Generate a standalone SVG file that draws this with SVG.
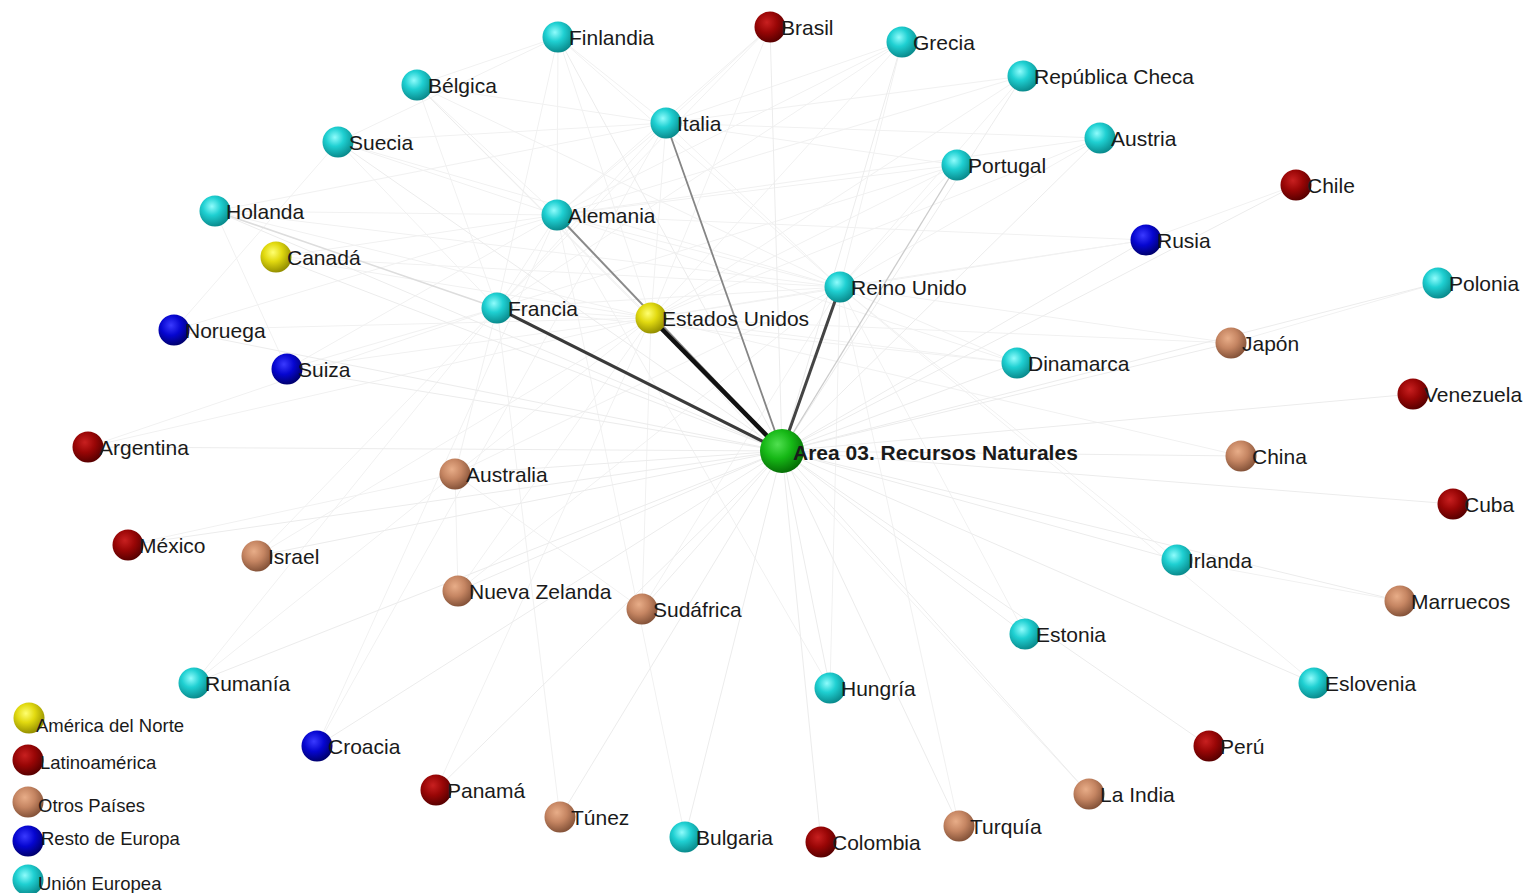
<svg xmlns="http://www.w3.org/2000/svg" width="1523" height="893" viewBox="0 0 1523 893">
<defs>
<radialGradient id="gC" cx="0.4" cy="0.35" r="0.65"><stop offset="0" stop-color="#8ffcfc"/><stop offset="0.45" stop-color="#1fd0d2"/><stop offset="1" stop-color="#0a8c8e"/></radialGradient>
<radialGradient id="gY" cx="0.4" cy="0.35" r="0.65"><stop offset="0" stop-color="#ffff70"/><stop offset="0.45" stop-color="#e2da10"/><stop offset="1" stop-color="#959000"/></radialGradient>
<radialGradient id="gR" cx="0.4" cy="0.35" r="0.65"><stop offset="0" stop-color="#c82020"/><stop offset="0.5" stop-color="#990606"/><stop offset="1" stop-color="#5a0000"/></radialGradient>
<radialGradient id="gT" cx="0.4" cy="0.35" r="0.65"><stop offset="0" stop-color="#e8ad88"/><stop offset="0.5" stop-color="#c58562"/><stop offset="1" stop-color="#86543a"/></radialGradient>
<radialGradient id="gB" cx="0.4" cy="0.35" r="0.65"><stop offset="0" stop-color="#3a3aff"/><stop offset="0.5" stop-color="#0606d0"/><stop offset="1" stop-color="#000070"/></radialGradient>
<radialGradient id="gG" cx="0.4" cy="0.35" r="0.65"><stop offset="0" stop-color="#50e050"/><stop offset="0.5" stop-color="#16b816"/><stop offset="1" stop-color="#067006"/></radialGradient>
</defs>
<style>
text{font-family:"Liberation Sans",Arial,sans-serif;font-size:21px;fill:#1a1a1a}
.lg text{font-size:18.5px}
.c{fill:url(#gC)} .y{fill:url(#gY)} .r{fill:url(#gR)} .t{fill:url(#gT)} .b{fill:url(#gB)} .g{fill:url(#gG)}
.f line{stroke:#f1f1f1;stroke-width:1}
.s line{stroke:#ececec;stroke-width:1}
</style>
<rect width="1523" height="893" fill="#ffffff"/>
<g id="connectors">
<g class="f">
<line x1="558" y1="37" x2="666" y2="123"/><line x1="558" y1="37" x2="557" y2="215"/><line x1="558" y1="37" x2="497" y2="308"/><line x1="558" y1="37" x2="840" y2="287"/><line x1="558" y1="37" x2="651" y2="318"/><line x1="558" y1="37" x2="417" y2="85"/>
<line x1="417" y1="85" x2="557" y2="215"/><line x1="417" y1="85" x2="497" y2="308"/><line x1="417" y1="85" x2="666" y2="123"/><line x1="417" y1="85" x2="840" y2="287"/><line x1="417" y1="85" x2="651" y2="318"/>
<line x1="338" y1="142" x2="557" y2="215"/><line x1="338" y1="142" x2="497" y2="308"/><line x1="338" y1="142" x2="666" y2="123"/><line x1="338" y1="142" x2="840" y2="287"/><line x1="338" y1="142" x2="558" y2="37"/>
<line x1="215" y1="211" x2="557" y2="215"/><line x1="215" y1="211" x2="666" y2="123"/><line x1="215" y1="211" x2="840" y2="287"/><line x1="215" y1="211" x2="651" y2="318"/>
<line x1="666" y1="123" x2="557" y2="215"/><line x1="666" y1="123" x2="497" y2="308"/><line x1="666" y1="123" x2="840" y2="287"/><line x1="666" y1="123" x2="651" y2="318"/><line x1="666" y1="123" x2="957" y2="165"/><line x1="666" y1="123" x2="1023" y2="76"/><line x1="666" y1="123" x2="1100" y2="138"/>
<line x1="557" y1="215" x2="497" y2="308"/><line x1="557" y1="215" x2="840" y2="287"/><line x1="557" y1="215" x2="957" y2="165"/><line x1="557" y1="215" x2="1023" y2="76"/><line x1="557" y1="215" x2="1100" y2="138"/><line x1="557" y1="215" x2="1017" y2="363"/><line x1="557" y1="215" x2="902" y2="42"/>
<line x1="497" y1="308" x2="840" y2="287"/><line x1="497" y1="308" x2="651" y2="318"/><line x1="497" y1="308" x2="957" y2="165"/><line x1="497" y1="308" x2="1017" y2="363"/><line x1="497" y1="308" x2="902" y2="42"/>
<line x1="651" y1="318" x2="840" y2="287"/><line x1="276" y1="257" x2="651" y2="318"/><line x1="276" y1="257" x2="840" y2="287"/><line x1="276" y1="257" x2="557" y2="215"/>
<line x1="770" y1="27" x2="666" y2="123"/><line x1="770" y1="27" x2="651" y2="318"/><line x1="770" y1="27" x2="557" y2="215"/><line x1="770" y1="27" x2="497" y2="308"/>
<line x1="902" y1="42" x2="666" y2="123"/><line x1="902" y1="42" x2="840" y2="287"/><line x1="902" y1="42" x2="651" y2="318"/>
<line x1="1023" y1="76" x2="840" y2="287"/><line x1="1023" y1="76" x2="651" y2="318"/><line x1="1100" y1="138" x2="840" y2="287"/><line x1="1100" y1="138" x2="651" y2="318"/>
<line x1="957" y1="165" x2="840" y2="287"/><line x1="957" y1="165" x2="651" y2="318"/><line x1="1017" y1="363" x2="840" y2="287"/><line x1="1017" y1="363" x2="651" y2="318"/>
<line x1="1146" y1="240" x2="557" y2="215"/><line x1="1146" y1="240" x2="840" y2="287"/><line x1="1146" y1="240" x2="651" y2="318"/>
<line x1="174" y1="330" x2="338" y2="142"/><line x1="174" y1="330" x2="557" y2="215"/><line x1="174" y1="330" x2="651" y2="318"/>
<line x1="287" y1="369" x2="497" y2="308"/><line x1="287" y1="369" x2="557" y2="215"/><line x1="287" y1="369" x2="651" y2="318"/><line x1="287" y1="369" x2="215" y2="211"/>
<line x1="455" y1="474" x2="128" y2="545"/><line x1="455" y1="474" x2="840" y2="287"/><line x1="455" y1="474" x2="651" y2="318"/><line x1="455" y1="474" x2="458" y2="591"/><line x1="455" y1="474" x2="497" y2="308"/>
<line x1="458" y1="591" x2="840" y2="287"/><line x1="458" y1="591" x2="651" y2="318"/><line x1="642" y1="609" x2="840" y2="287"/><line x1="642" y1="609" x2="651" y2="318"/><line x1="642" y1="609" x2="455" y2="474"/>
<line x1="257" y1="556" x2="651" y2="318"/><line x1="257" y1="556" x2="497" y2="308"/><line x1="194" y1="683" x2="497" y2="308"/><line x1="194" y1="683" x2="455" y2="474"/>
<line x1="317" y1="746" x2="666" y2="123"/><line x1="317" y1="746" x2="557" y2="215"/><line x1="88" y1="447" x2="497" y2="308"/><line x1="88" y1="447" x2="651" y2="318"/>
<line x1="1231" y1="343" x2="1438" y2="283"/><line x1="1231" y1="343" x2="840" y2="287"/><line x1="1231" y1="343" x2="651" y2="318"/><line x1="1241" y1="456" x2="651" y2="318"/>
<line x1="1296" y1="185" x2="1146" y2="240"/><line x1="1177" y1="560" x2="840" y2="287"/><line x1="1177" y1="560" x2="1400" y2="601"/><line x1="1025" y1="634" x2="840" y2="287"/><line x1="830" y1="688" x2="557" y2="215"/><line x1="830" y1="688" x2="840" y2="287"/>
<line x1="1314" y1="683" x2="840" y2="287"/><line x1="1089" y1="794" x2="651" y2="318"/><line x1="959" y1="826" x2="840" y2="287"/><line x1="685" y1="837" x2="557" y2="215"/><line x1="560" y1="817" x2="497" y2="308"/><line x1="436" y1="790" x2="651" y2="318"/>
</g>
<g class="s">
<line x1="782" y1="451" x2="558" y2="37"/><line x1="782" y1="451" x2="770" y2="27"/><line x1="782" y1="451" x2="902" y2="42"/><line x1="782" y1="451" x2="1023" y2="76"/><line x1="782" y1="451" x2="417" y2="85"/><line x1="782" y1="451" x2="338" y2="142"/><line x1="782" y1="451" x2="1100" y2="138"/><line x1="782" y1="451" x2="1296" y2="185"/><line x1="782" y1="451" x2="215" y2="211"/><line x1="782" y1="451" x2="1146" y2="240"/><line x1="782" y1="451" x2="276" y2="257"/><line x1="782" y1="451" x2="1438" y2="283"/><line x1="782" y1="451" x2="174" y2="330"/><line x1="782" y1="451" x2="287" y2="369"/><line x1="782" y1="451" x2="1017" y2="363"/><line x1="782" y1="451" x2="1231" y2="343"/><line x1="782" y1="451" x2="1413" y2="394"/><line x1="782" y1="451" x2="88" y2="447"/><line x1="782" y1="451" x2="455" y2="474"/><line x1="782" y1="451" x2="1241" y2="456"/><line x1="782" y1="451" x2="1453" y2="504"/><line x1="782" y1="451" x2="128" y2="545"/><line x1="782" y1="451" x2="257" y2="556"/><line x1="782" y1="451" x2="1177" y2="560"/><line x1="782" y1="451" x2="458" y2="591"/><line x1="782" y1="451" x2="642" y2="609"/><line x1="782" y1="451" x2="1400" y2="601"/><line x1="782" y1="451" x2="1025" y2="634"/><line x1="782" y1="451" x2="194" y2="683"/><line x1="782" y1="451" x2="830" y2="688"/><line x1="782" y1="451" x2="1314" y2="683"/><line x1="782" y1="451" x2="317" y2="746"/><line x1="782" y1="451" x2="1209" y2="746"/><line x1="782" y1="451" x2="436" y2="790"/><line x1="782" y1="451" x2="1089" y2="794"/><line x1="782" y1="451" x2="560" y2="817"/><line x1="782" y1="451" x2="685" y2="837"/><line x1="782" y1="451" x2="821" y2="842"/><line x1="782" y1="451" x2="959" y2="826"/>
</g>
<line x1="215" y1="211" x2="497" y2="308" stroke="#dddddd" stroke-width="1.5"/>
<line x1="782" y1="451" x2="957" y2="165" stroke="#cccccc" stroke-width="1.3"/>
<line x1="782" y1="451" x2="666" y2="123" stroke="#858585" stroke-width="1.8"/>
<line x1="782" y1="451" x2="557" y2="215" stroke="#8a8a8a" stroke-width="2"/>
<line x1="782" y1="451" x2="497" y2="308" stroke="#3a3a3a" stroke-width="3"/>
<line x1="782" y1="451" x2="840" y2="287" stroke="#444444" stroke-width="3"/>
<line x1="782" y1="451" x2="651" y2="318" stroke="#111111" stroke-width="4.5"/>
</g>
<g id="n-finlandia"><circle class="c" cx="558" cy="37" r="15.5"/><text x="569" y="45">Finlandia</text></g>
<g id="n-brasil"><circle class="r" cx="770" cy="27" r="15.5"/><text x="781" y="35">Brasil</text></g>
<g id="n-grecia"><circle class="c" cx="902" cy="42" r="15.5"/><text x="913" y="50">Grecia</text></g>
<g id="n-rcheca"><circle class="c" cx="1023" cy="76" r="15.5"/><text x="1034" y="84">República Checa</text></g>
<g id="n-belgica"><circle class="c" cx="417" cy="85" r="15.5"/><text x="428" y="93">Bélgica</text></g>
<g id="n-italia"><circle class="c" cx="666" cy="123" r="15.5"/><text x="677" y="131">Italia</text></g>
<g id="n-suecia"><circle class="c" cx="338" cy="142" r="15.5"/><text x="349" y="150">Suecia</text></g>
<g id="n-austria"><circle class="c" cx="1100" cy="138" r="15.5"/><text x="1111" y="146">Austria</text></g>
<g id="n-portugal"><circle class="c" cx="957" cy="165" r="15.5"/><text x="968" y="173">Portugal</text></g>
<g id="n-chile"><circle class="r" cx="1296" cy="185" r="15.5"/><text x="1307" y="193">Chile</text></g>
<g id="n-holanda"><circle class="c" cx="215" cy="211" r="15.5"/><text x="226" y="219">Holanda</text></g>
<g id="n-alemania"><circle class="c" cx="557" cy="215" r="15.5"/><text x="568" y="223">Alemania</text></g>
<g id="n-rusia"><circle class="b" cx="1146" cy="240" r="15.5"/><text x="1157" y="248">Rusia</text></g>
<g id="n-canada"><circle class="y" cx="276" cy="257" r="15.5"/><text x="287" y="265">Canadá</text></g>
<g id="n-reinounido"><circle class="c" cx="840" cy="287" r="15.5"/><text x="851" y="295">Reino Unido</text></g>
<g id="n-polonia"><circle class="c" cx="1438" cy="283" r="15.5"/><text x="1449" y="291">Polonia</text></g>
<g id="n-francia"><circle class="c" cx="497" cy="308" r="15.5"/><text x="508" y="316">Francia</text></g>
<g id="n-eeuu"><circle class="y" cx="651" cy="318" r="15.5"/><text x="662" y="326">Estados Unidos</text></g>
<g id="n-noruega"><circle class="b" cx="174" cy="330" r="15.5"/><text x="185" y="338">Noruega</text></g>
<g id="n-suiza"><circle class="b" cx="287" cy="369" r="15.5"/><text x="298" y="377">Suiza</text></g>
<g id="n-dinamarca"><circle class="c" cx="1017" cy="363" r="15.5"/><text x="1028" y="371">Dinamarca</text></g>
<g id="n-japon"><circle class="t" cx="1231" cy="343" r="15.5"/><text x="1242" y="351">Japón</text></g>
<g id="n-venezuela"><circle class="r" cx="1413" cy="394" r="15.5"/><text x="1424" y="402">Venezuela</text></g>
<g id="n-argentina"><circle class="r" cx="88" cy="447" r="15.5"/><text x="99" y="455">Argentina</text></g>
<g id="n-australia"><circle class="t" cx="455" cy="474" r="15.5"/><text x="466" y="482">Australia</text></g>
<g id="n-china"><circle class="t" cx="1241" cy="456" r="15.5"/><text x="1252" y="464">China</text></g>
<g id="n-cuba"><circle class="r" cx="1453" cy="504" r="15.5"/><text x="1464" y="512">Cuba</text></g>
<g id="n-mexico"><circle class="r" cx="128" cy="545" r="15.5"/><text x="139" y="553">México</text></g>
<g id="n-israel"><circle class="t" cx="257" cy="556" r="15.5"/><text x="268" y="564">Israel</text></g>
<g id="n-irlanda"><circle class="c" cx="1177" cy="560" r="15.5"/><text x="1188" y="568">Irlanda</text></g>
<g id="n-nzelanda"><circle class="t" cx="458" cy="591" r="15.5"/><text x="469" y="599">Nueva Zelanda</text></g>
<g id="n-sudafrica"><circle class="t" cx="642" cy="609" r="15.5"/><text x="653" y="617">Sudáfrica</text></g>
<g id="n-marruecos"><circle class="t" cx="1400" cy="601" r="15.5"/><text x="1411" y="609">Marruecos</text></g>
<g id="n-estonia"><circle class="c" cx="1025" cy="634" r="15.5"/><text x="1036" y="642">Estonia</text></g>
<g id="n-rumania"><circle class="c" cx="194" cy="683" r="15.5"/><text x="205" y="691">Rumanía</text></g>
<g id="n-hungria"><circle class="c" cx="830" cy="688" r="15.5"/><text x="841" y="696">Hungría</text></g>
<g id="n-eslovenia"><circle class="c" cx="1314" cy="683" r="15.5"/><text x="1325" y="691">Eslovenia</text></g>
<g id="n-croacia"><circle class="b" cx="317" cy="746" r="15.5"/><text x="328" y="754">Croacia</text></g>
<g id="n-peru"><circle class="r" cx="1209" cy="746" r="15.5"/><text x="1220" y="754">Perú</text></g>
<g id="n-panama"><circle class="r" cx="436" cy="790" r="15.5"/><text x="447" y="798">Panamá</text></g>
<g id="n-laindia"><circle class="t" cx="1089" cy="794" r="15.5"/><text x="1100" y="802">La India</text></g>
<g id="n-tunez"><circle class="t" cx="560" cy="817" r="15.5"/><text x="571" y="825">Túnez</text></g>
<g id="n-bulgaria"><circle class="c" cx="685" cy="837" r="15.5"/><text x="696" y="845">Bulgaria</text></g>
<g id="n-colombia"><circle class="r" cx="821" cy="842" r="15.5"/><text x="832" y="850">Colombia</text></g>
<g id="n-turquia"><circle class="t" cx="959" cy="826" r="15.5"/><text x="970" y="834">Turquía</text></g>
<g id="n-area03"><circle class="g" cx="782" cy="451" r="22"/><text x="793" y="460" font-weight="bold" font-size="21.5">Area 03. Recursos Naturales</text></g>
<g id="legend" class="lg">
<circle class="y" cx="29" cy="718" r="15.5"/><text x="36" y="732">América del Norte</text>
<circle class="r" cx="28" cy="760" r="15.5"/><text x="40" y="769">Latinoamérica</text>
<circle class="t" cx="28" cy="802" r="15.5"/><text x="38" y="812">Otros Países</text>
<circle class="b" cx="28" cy="841" r="15.5"/><text x="41" y="845">Resto de Europa</text>
<circle class="c" cx="28" cy="880" r="15.5"/><text x="38" y="890">Unión Europea</text>
</g>
</svg>
